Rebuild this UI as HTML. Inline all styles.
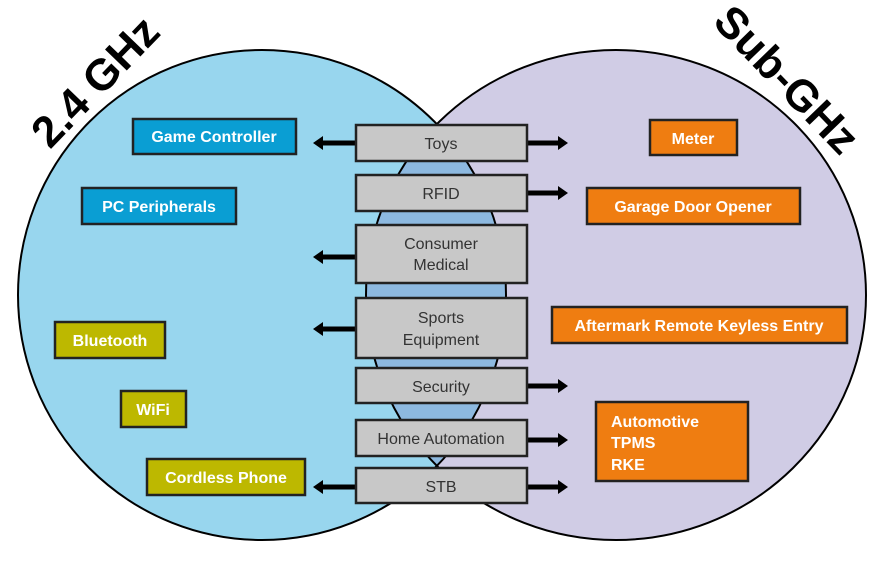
<!DOCTYPE html>
<html><head><style>
body{margin:0;background:#fff}
svg text{font-family:"Liberation Sans",sans-serif}
</style></head><body>
<svg width="882" height="559" viewBox="0 0 882 559" xmlns="http://www.w3.org/2000/svg">
<defs>
<clipPath id="cr"><ellipse cx="616" cy="295" rx="250" ry="245"/></clipPath>
</defs>
<ellipse cx="262" cy="295" rx="244" ry="245" fill="#98d6ee"/>
<ellipse cx="616" cy="295" rx="250" ry="245" fill="#d0cce5"/>
<ellipse cx="262" cy="295" rx="244" ry="245" fill="#8db9e0" clip-path="url(#cr)"/>
<ellipse cx="262" cy="295" rx="244" ry="245" fill="none" stroke="#000" stroke-width="2"/>
<ellipse cx="616" cy="295" rx="250" ry="245" fill="none" stroke="#000" stroke-width="2"/>

<text x="0" y="0" font-size="44" font-weight="bold" text-anchor="middle" transform="translate(106,92) rotate(-46)">2.4 GHz</text>
<text x="0" y="0" font-size="44" font-weight="bold" text-anchor="middle" transform="translate(776,90) rotate(46)">Sub-GHz</text>

<g fill="#000">
<path d="M356,140.5 h-33 v-4.5 l-10,7 l10,7 v-4.5 h33 z"/>
<path d="M527,140.5 h31 v-4.5 l10,7 l-10,7 v-4.5 h-31 z"/>
<path d="M527,190.5 h31 v-4.5 l10,7 l-10,7 v-4.5 h-31 z"/>
<path d="M356,254.5 h-33 v-4.5 l-10,7 l10,7 v-4.5 h33 z"/>
<path d="M356,326.5 h-33 v-4.5 l-10,7 l10,7 v-4.5 h33 z"/>
<path d="M527,383.5 h31 v-4.5 l10,7 l-10,7 v-4.5 h-31 z"/>
<path d="M527,437.5 h31 v-4.5 l10,7 l-10,7 v-4.5 h-31 z"/>
<path d="M356,484.5 h-33 v-4.5 l-10,7 l10,7 v-4.5 h33 z"/>
<path d="M527,484.5 h31 v-4.5 l10,7 l-10,7 v-4.5 h-31 z"/>
</g>

<g stroke="#222" stroke-width="2.5">
<rect x="356" y="125" width="171" height="36" fill="#c8c8c8"/>
<rect x="356" y="175" width="171" height="36" fill="#c8c8c8"/>
<rect x="356" y="225" width="171" height="58" fill="#c8c8c8"/>
<rect x="356" y="298" width="171" height="60" fill="#c8c8c8"/>
<rect x="356" y="368" width="171" height="35" fill="#c8c8c8"/>
<rect x="356" y="420" width="171" height="36" fill="#c8c8c8"/>
<rect x="356" y="468" width="171" height="35" fill="#c8c8c8"/>

<rect x="133" y="119" width="163" height="35" fill="#0a9ed3"/>
<rect x="82" y="188" width="154" height="36" fill="#0a9ed3"/>
<rect x="55" y="322" width="110" height="36" fill="#bdb800"/>
<rect x="121" y="391" width="65" height="36" fill="#bdb800"/>
<rect x="147" y="459" width="158" height="36" fill="#bdb800"/>
<rect x="650" y="120" width="87" height="35" fill="#ef7d11"/>
<rect x="587" y="188" width="213" height="36" fill="#ef7d11"/>
<rect x="552" y="307" width="295" height="36" fill="#ef7d11"/>
<rect x="596" y="402" width="152" height="79" fill="#ef7d11"/>
</g>

<g font-size="16" fill="#333" text-anchor="middle">
<text x="441" y="149">Toys</text>
<text x="441" y="199">RFID</text>
<text x="441" y="249">Consumer</text>
<text x="441" y="270">Medical</text>
<text x="441" y="323">Sports</text>
<text x="441" y="345">Equipment</text>
<text x="441" y="392">Security</text>
<text x="441" y="444">Home Automation</text>
<text x="441" y="492">STB</text>
</g>
<g font-size="16" font-weight="bold" fill="#fff" text-anchor="middle">
<text x="214" y="142">Game Controller</text>
<text x="159" y="212">PC Peripherals</text>
<text x="110" y="346">Bluetooth</text>
<text x="153" y="415">WiFi</text>
<text x="226" y="483">Cordless Phone</text>
<text x="693" y="144">Meter</text>
<text x="693" y="212">Garage Door Opener</text>
<text x="699" y="331">Aftermark Remote Keyless Entry</text>
</g>
<g font-size="16" font-weight="bold" fill="#fff">
<text x="611" y="427">Automotive</text>
<text x="611" y="448">TPMS</text>
<text x="611" y="470">RKE</text>
</g>
</svg>
</body></html>
